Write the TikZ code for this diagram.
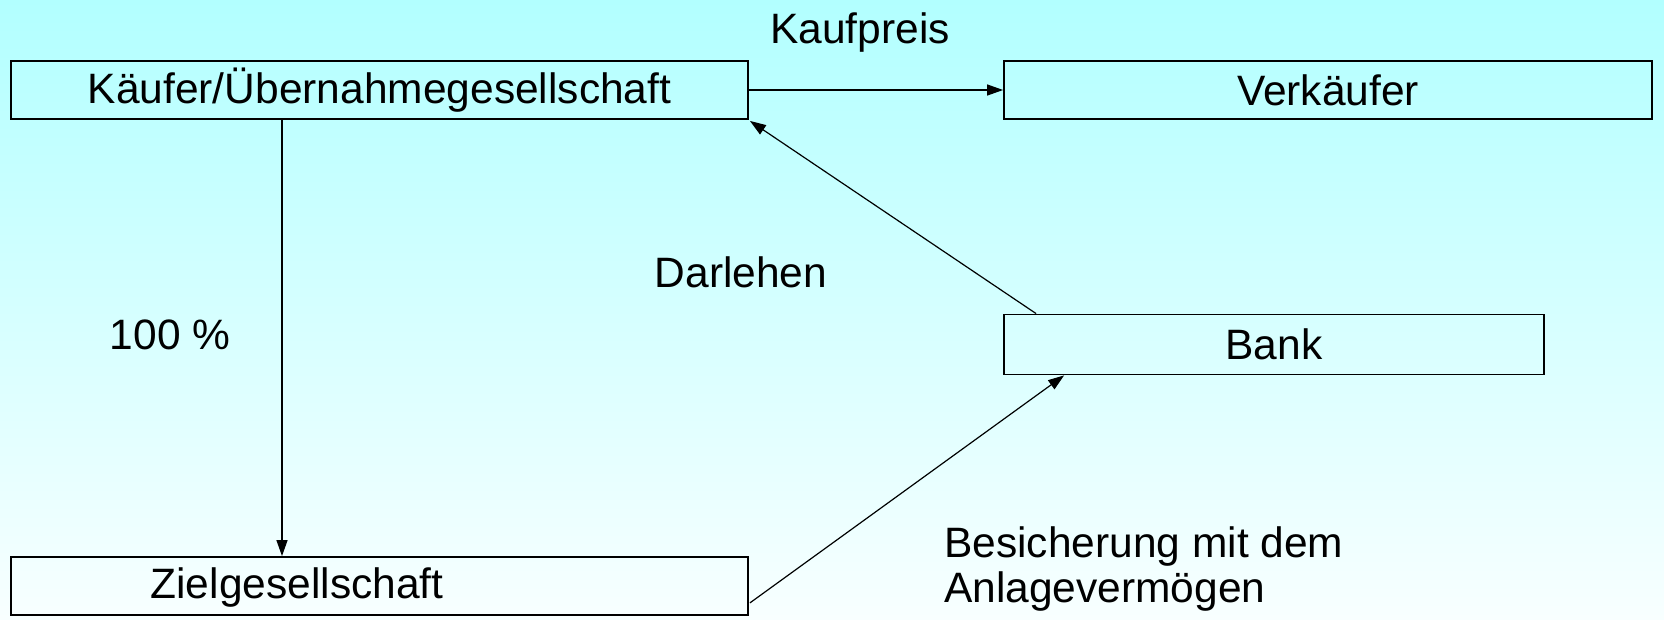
\documentclass[tikz,border=0pt]{standalone}
\usepackage{fontspec}
\setmainfont{Liberation Sans}
\usetikzlibrary{arrows.meta,calc}
\definecolor{bgtop}{RGB}{178,255,255}
\definecolor{bgbot}{RGB}{248,255,255}
\tikzset{
  box/.style={draw=black,line width=1.8pt,minimum height=58pt,inner sep=0pt},
  lbl/.style={font=\fontsize{42.5}{45}\selectfont,inner sep=0pt},
  arr/.style={line width=1.2pt,-{Triangle[length=16pt,width=11pt]}}
}
\begin{document}
\begin{tikzpicture}[x=1pt,y=-1pt]
\shade[top color=bgtop,bottom color=bgbot] (0,0) rectangle (1664,619);
\useasboundingbox (0,0) rectangle (1664,619);
\node[box,minimum width=737pt,lbl] (kaeufer) at (379.5,90) {Käufer/Übernahmegesellschaft};
\node[box,minimum width=648pt,lbl] (verkaeufer) at (1328,90) {Verkäufer};
\node[box,minimum width=540pt,minimum height=60pt,lbl] (bank) at (1274,344.5) {Bank};
\node[box,minimum width=737pt] (ziel) at (379.5,586) {};
\node[lbl] (zieltext) at (297,587) {Zielgesellschaft};
\node[lbl] (kaufpreis) at (860,33) {Kaufpreis};
\node[lbl] (darlehen) at (741,272) {Darlehen};
\node[lbl] (hundert) at (170,335) {100 \%};
\node[lbl,align=left,anchor=west] (besicherung) at (944,569) {Besicherung mit dem\\Anlagevermögen};
\coordinate (vx) at (282,0);
\draw[arr] (kaeufer.east) -- (verkaeufer.west);
\draw[arr] (kaeufer.south -| vx) -- (ziel.north -| vx);
\draw[arr] ($(bank.north west)+(33,0)$) -- ($(kaeufer.south east)+(1,1)$);
\draw[arr] ($(ziel.south east)+(1,-13)$) -- ($(bank.south west)+(61,0)$);
\end{tikzpicture}
\end{document}
